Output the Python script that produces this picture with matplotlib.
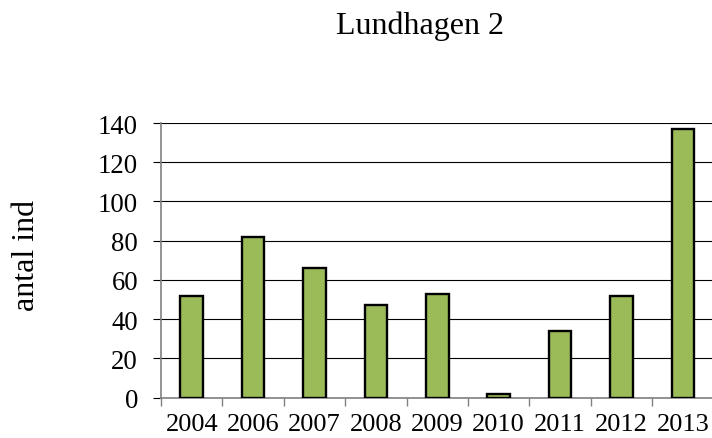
import matplotlib
matplotlib.use("Agg")
import matplotlib.pyplot as plt
import numpy as np

# data
years = ["2004", "2006", "2007", "2008", "2009", "2010", "2011", "2012", "2013"]
counts = [52, 82, 66, 47, 53, 2, 34, 52, 137]
yticks = [0, 20, 40, 60, 80, 100, 120, 140]

plt.rcParams['font.family'] = ['Liberation Serif', 'DejaVu Serif']

fig = plt.figure(figsize=(7.12, 4.39), dpi=100)
ax = fig.add_axes([161 / 712, 40.3 / 439, 552.6 / 712, 274.7 / 439])

x = np.arange(len(years))
ax.bar(x, counts, width=0.37, color='#9BBB59', edgecolor='black', linewidth=1.7, zorder=3)

ax.set_xlim(-0.5, len(years) - 0.5)
ax.set_ylim(0, 140)
ax.set_yticks(yticks)
ax.set_yticklabels([str(v) for v in yticks])
ax.yaxis.grid(True, color='black', linewidth=0.8, zorder=0)
ax.set_axisbelow(True)

# ticks at category boundaries, labels centered under bars
ax.set_xticks(np.arange(len(years) + 1) - 0.5)
ax.set_xticklabels([])
ax.set_xticks(x, minor=True)
ax.set_xticklabels(years, minor=True)
ax.tick_params(axis='x', which='minor', length=0, pad=11, labelsize=19)
ax.tick_params(axis='x', which='major', length=5.5, width=1, color='#808080', direction='out')
ax.tick_params(axis='y', length=5.5, width=0.8, color='black', pad=11, labelsize=19.3)

for side in ['top', 'right']:
    ax.spines[side].set_visible(False)
for side in ['left', 'bottom']:
    ax.spines[side].set_color('#808080')
    ax.spines[side].set_linewidth(1.2)

fig.text(27 / 712, 1 - 255 / 439, 'antal ind', rotation=90, ha='center', va='center', fontsize=23)
fig.text(420 / 712, 1 - 26 / 439, 'Lundhagen 2', ha='center', va='center', fontsize=23)

fig.savefig('out.png', dpi=100)
